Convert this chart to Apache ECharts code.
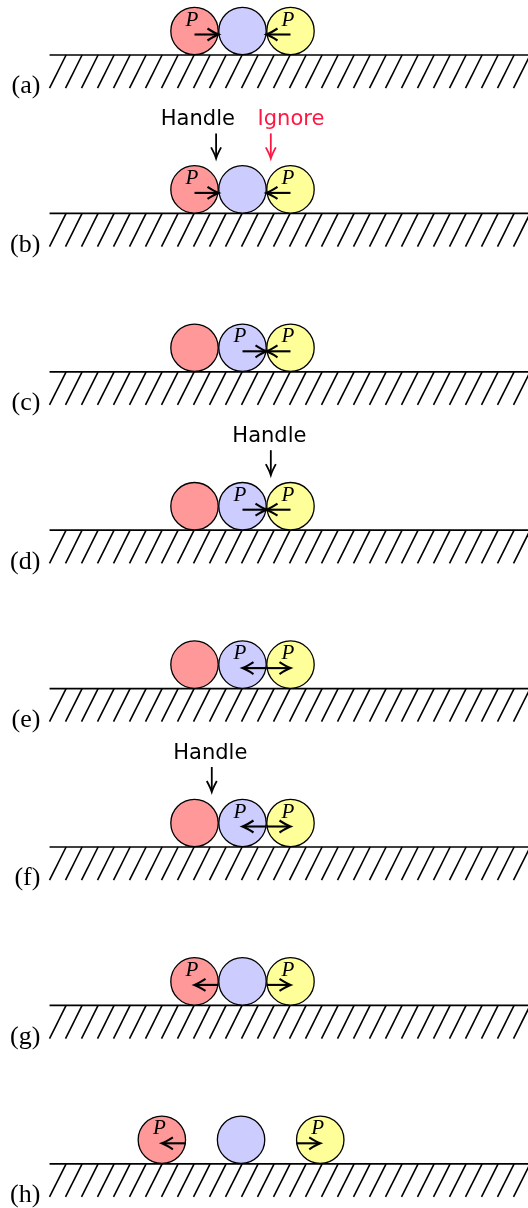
<!DOCTYPE html>
<html>
<head>
<meta charset="utf-8">
<script src="https://cdn.jsdelivr.net/npm/echarts@6/dist/echarts.min.js"></script>
<style>html,body{margin:0;padding:0;background:#fff}#chart{width:528px;height:1208px}</style>
</head>
<body>
<div id="chart"></div>
<script>
// ---- data (units: ball diameters, blue ball of panels a-g at x = 0) ----
const PANEL_LABELS = ['(a)', '(b)', '(c)', '(d)', '(e)', '(f)', '(g)', '(h)'];
const BALL_COLORS = ['#ff9999', '#ccccff', '#ffff99'];      // red, blue, yellow
const BALL_X = [                                              // centre x of red, blue, yellow
  [-1, 0, 1], [-1, 0, 1], [-1, 0, 1], [-1, 0, 1],
  [-1, 0, 1], [-1, 0, 1], [-1, 0, 1], [-1.68, -0.03, 1.62]
];
// force arrows: [panel, ball carrying the P label, from x, to x (tip)]
const FORCES = [
  [0, 0, -1, -0.5], [0, 2, 1, 0.5],
  [1, 0, -1, -0.5], [1, 2, 1, 0.5],
  [2, 1, 0, 0.5],   [2, 2, 1, 0.5],
  [3, 1, 0, 0.5],   [3, 2, 1, 0.5],
  [4, 1, 0.5, 0],   [4, 2, 0.5, 1],
  [5, 1, 0.5, 0],   [5, 2, 0.5, 1],
  [6, 0, -0.5, -1], [6, 2, 0.5, 1],
  [7, 0, -1.18, -1.68], [7, 2, 1.12, 1.62]
];
// annotations: [panel, text, text centre x, pointer x]
const NOTES = [
  [1, 'Handle', -0.93, -0.55],
  [1, 'Ignore', 1.01, 0.59],
  [3, 'Handle', 0.56, 0.59],
  [5, 'Handle', -0.67, -0.64]
];
const NOTE_COLORS = { Handle: '#000000', Ignore: '#ff1744' };

// ---- layout constants ----
const PANEL_GAP = 3.3;            // vertical distance between panels (diameters)
const X_MIN = -242.5 / 48, X_MAX = 285.5 / 48;
const Y_MIN = -55 / 48, Y_MAX = (1208 - 55) / 48;
const GROUND_X0 = -4.02;
const HATCH_STEP = 1 / 3, HATCH_LEAN = 0.345, HATCH_DEPTH = 0.69;
const ARROW_H = 0.427;            // arrow height above ground
const LABEL_X = -4.21, LABEL_H = -0.93;

const yOf = (panel, h) => panel * PANEL_GAP - h;

const chart = echarts.init(document.getElementById('chart'), null, { renderer: 'canvas' });

function renderGround(params, api) {
  const panel = api.value(0);
  const left = api.coord([GROUND_X0, yOf(panel, 0)]);
  const right = api.coord([X_MAX + 0.5, yOf(panel, 0)]);
  const children = [{
    type: 'line', shape: { x1: left[0], y1: left[1], x2: right[0], y2: right[1] },
    style: { stroke: '#000', lineWidth: 1.7 }
  }];
  for (let x = GROUND_X0; x < X_MAX + 0.5; x += HATCH_STEP) {
    const b = api.coord([x, yOf(panel, -HATCH_DEPTH)]);
    const t = api.coord([x + HATCH_LEAN, yOf(panel, 0)]);
    children.push({
      type: 'line', shape: { x1: b[0], y1: b[1], x2: t[0], y2: t[1] },
      style: { stroke: '#000', lineWidth: 1.6 }
    });
  }
  const lp = api.coord([LABEL_X, yOf(panel, LABEL_H)]);
  children.push({
    type: 'text', x: lp[0], y: lp[1],
    style: { text: PANEL_LABELS[params.dataIndex], fill: '#000', font: '26px "Liberation Serif"', align: 'right', verticalAlign: 'bottom' }
  });
  return { type: 'group', children };
}

function renderBall(params, api) {
  const panel = api.value(0), x = api.value(1), ci = api.value(2);
  const c = api.coord([x, yOf(panel, 0.5)]);
  const r = Math.abs(api.size([0.5, 0])[0]) - 0.3;
  return {
    type: 'circle', shape: { cx: c[0], cy: c[1], r },
    style: { fill: BALL_COLORS[ci], stroke: '#000', lineWidth: 1.3 }
  };
}

function renderForce(params, api) {
  const panel = api.value(0), ball = api.value(1);
  const from = api.coord([api.value(2), yOf(panel, ARROW_H)]);
  const to = api.coord([api.value(3), yOf(panel, ARROW_H)]);
  const dir = Math.sign(to[0] - from[0]);
  const tx = to[0], ty = to[1];
  const L = 11, W = 6;
  const path = 'M' + (tx - dir * L) + ' ' + (ty - W) +
    ' Q' + (tx - dir * 4) + ' ' + (ty - 1.5) + ' ' + tx + ' ' + ty +
    ' Q' + (tx - dir * 4) + ' ' + (ty + 1.5) + ' ' + (tx - dir * L) + ' ' + (ty + W);
  const bx = BALL_X[panel][ball];
  const pc = api.coord([bx - 0.052, yOf(panel, 0.573)]);
  return {
    type: 'group', children: [
      { type: 'line', shape: { x1: from[0], y1: from[1], x2: tx - dir * 1, y2: ty }, style: { stroke: '#000', lineWidth: 2.1 } },
      { type: 'path', shape: { pathData: path }, style: { stroke: '#000', fill: null, lineWidth: 2.1 } },
      { type: 'text', x: pc[0], y: pc[1] + 3, style: { text: 'P', fill: '#000', font: 'italic 21px "Liberation Serif"', align: 'center', verticalAlign: 'bottom' } }
    ]
  };
}

function renderNote(params, api) {
  const n = NOTES[params.dataIndex];
  const panel = api.value(0);
  const color = NOTE_COLORS[n[1]];
  const tp = api.coord([api.value(1), yOf(panel, 1.8125)]);
  const a0 = api.coord([api.value(2), yOf(panel, 1.667)]);
  const a1 = api.coord([api.value(2), yOf(panel, 1.146)]);
  const path = 'M' + (a1[0] - 5) + ' ' + (a1[1] - 11) +
    ' Q' + (a1[0] - 1.2) + ' ' + (a1[1] - 4) + ' ' + a1[0] + ' ' + a1[1] +
    ' Q' + (a1[0] + 1.2) + ' ' + (a1[1] - 4) + ' ' + (a1[0] + 5) + ' ' + (a1[1] - 11);
  return {
    type: 'group', children: [
      { type: 'text', x: tp[0], y: tp[1] + 4, style: { text: n[1], fill: color, font: '21px "DejaVu Sans"', align: 'center', verticalAlign: 'bottom' } },
      { type: 'line', shape: { x1: a0[0], y1: a0[1], x2: a1[0], y2: a1[1] - 1 }, style: { stroke: color, lineWidth: 1.8 } },
      { type: 'path', shape: { pathData: path }, style: { stroke: color, fill: null, lineWidth: 1.8 } }
    ]
  };
}

const ballData = [];
BALL_X.forEach((xs, p) => xs.forEach((x, i) => ballData.push([p, x, i])));

chart.setOption({
  animation: false,
  grid: { left: 0, right: 0, top: 0, bottom: 0 },
  xAxis: { type: 'value', min: X_MIN, max: X_MAX, show: false },
  yAxis: { type: 'value', min: Y_MIN, max: Y_MAX, inverse: true, show: false },
  series: [
    { type: 'custom', clip: false, renderItem: renderGround, data: PANEL_LABELS.map((l, i) => [i]) },
    { type: 'custom', clip: false, renderItem: renderBall, data: ballData },
    { type: 'custom', clip: false, renderItem: renderForce, data: FORCES },
    { type: 'custom', clip: false, renderItem: renderNote, data: NOTES.map(n => [n[0], n[2], n[3]]) }
  ]
});
</script>
</body>
</html>
